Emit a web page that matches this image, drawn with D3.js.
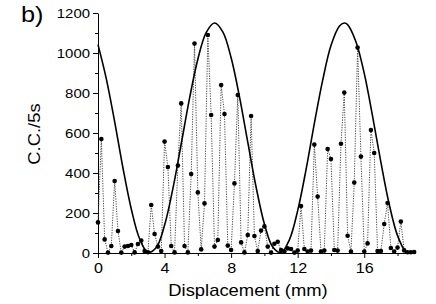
<!DOCTYPE html>
<html>
<head>
<meta charset="utf-8">
<script src="https://d3js.org/d3.v7.min.js"></script>
<style>
  body{ margin:0; background:#fff }
  text{ font-family:"Liberation Sans", Arial, sans-serif; fill:#000 }
</style>
</head>
<body>
<script>
// measured points (displacement in mm, counts per 5 s)
var posMm = [0,0.2,0.4,0.6,0.8,1.0,1.2,1.4,1.6,1.8,2.0,2.2,2.4,2.6,2.8,3.0,
  3.2,3.4,3.6,3.8,4.0,4.2,4.4,4.6,4.8,5.0,5.2,5.4,5.6,5.8,6.0,6.2,6.4,6.6,6.8,
  7.0,7.2,7.4,7.6,7.8,8.0,8.2,8.4,8.6,8.8,9.0,9.2,9.4,9.6,9.8,10.0,10.2,10.4,
  10.6,10.8,11.0,11.2,11.4,11.6,11.8,12.0,12.2,12.4,12.6,12.8,13.0,13.2,13.4,
  13.6,13.8,14.0,14.2,14.4,14.6,14.8,15.0,15.2,15.4,15.6,15.8,16.0,16.2,16.4,
  16.6,16.8,17.0,17.2,17.4,17.6,17.8,18.0,18.2,18.4,18.6,18.8,19.0];
var counts = [153,570,68,2,35,360,110,2,32,35,40,3,45,62,10,4,
  240,95,32,10,557,430,35,3,437,748,35,3,395,1047,303,18,248,1090,690,
  32,65,840,695,37,15,348,790,53,3,90,685,85,10,112,133,32,2,
  46,56,15,7,23,20,2,12,235,20,7,12,542,282,7,
  12,520,470,15,12,546,802,86,7,352,1027,482,7,48,615,
  500,10,10,145,250,25,7,27,157,13,4,4,5];

// fitted curve
var fitMm = [0,0.5,1,1.5,2,2.5,3,3.5,4,4.5,5,5.5,6,6.5,7,7.5,8,8.5,9,9.5,10,
  10.5,11,11.5,12,12.5,13,13.5,14,14.5,14.8,15,15.5,16,16.5,17,17.5,18,18.5,18.7];
var fitCounts = [1042,871,657,425,220,71,3,27,139,322,545,773,969,1102,1150,1106,
  976,782,554,330,145,30,2,66,212,416,647,863,1037,1134,1150,1142,1056,898,684,
  454,244,87,6,0];

var xTicks = [0,4,8,12,16];
var xMinor = [2,6,10,14,18];
var yTicks = [0,200,400,600,800,1000,1200];
var yMinor = [100,300,500,700,900,1100];

var sx = 1.15; // the labels in the picture are a bit wide

var svg = d3.select("body").append("svg")
  .attr("width",436)
  .attr("height",304);

var x = d3.scaleLinear().domain([0,19.05]).range([98,415]);
var y = d3.scaleLinear().domain([0,1200]).range([253,13]);

// minor ticks
svg.append("g")
  .attr("transform","translate(0,253)")
  .call(d3.axisBottom(x).tickValues(xMinor).tickSize(3).tickFormat(""))
  .call(function(g){ g.select(".domain").remove(); });
svg.append("g")
  .attr("transform","translate(98,0)")
  .call(d3.axisLeft(y).tickValues(yMinor).tickSize(3).tickFormat(""))
  .call(function(g){ g.select(".domain").remove(); });

var xAxis = svg.append("g")
  .attr("transform","translate(0,253)")
  .call(d3.axisBottom(x).tickValues(xTicks).tickFormat(d3.format("d"))
    .tickSize(5).tickSizeOuter(0).tickPadding(5));
xAxis.selectAll("text")
  .style("font-size","14px")
  .attr("transform","scale(" + sx + ",1)");

var yAxis = svg.append("g")
  .attr("transform","translate(98,0)")
  .call(d3.axisLeft(y).tickValues(yTicks).tickFormat(d3.format("d"))
    .tickSize(5).tickSizeOuter(0));
yAxis.selectAll("text")
  .style("font-size","13px")
  .attr("x",-8/sx)
  .attr("transform","scale(" + sx + ",1)");

svg.selectAll(".domain, .tick line").attr("stroke","#000");

// dotted line through the points
var pts = posMm.map(function(d,i){ return [d, counts[i]]; });
svg.append("path")
  .datum(pts)
  .attr("fill","none")
  .attr("stroke","#444")
  .attr("stroke-width",1)
  .attr("stroke-dasharray","1.2,1.3")
  .attr("d", d3.line().x(function(d){ return x(d[0]); }).y(function(d){ return y(d[1]); }));

// solid fitted curve
var fit = fitMm.map(function(d,i){ return [d, fitCounts[i]]; });
svg.append("path")
  .datum(fit)
  .attr("fill","none")
  .attr("stroke","#000")
  .attr("stroke-width",1.6)
  .attr("d", d3.line().curve(d3.curveCatmullRom)
    .x(function(d){ return x(d[0]); }).y(function(d){ return y(d[1]); }));

svg.append("g").selectAll("circle")
  .data(pts)
  .enter().append("circle")
  .attr("cx", function(d){ return x(d[0]); })
  .attr("cy", function(d){ return y(d[1]); })
  .attr("r", 2.3)
  .attr("fill", "#000");

// labels
svg.append("text")
  .attr("transform","translate(" + 248 + ",296) scale(" + sx + ",1)")
  .attr("text-anchor","middle")
  .style("font-size","16px")
  .text("Displacement (mm)");

svg.append("text")
  .attr("transform","translate(40,134) rotate(-90) scale(" + sx + ",1)")
  .attr("text-anchor","middle")
  .style("font-size","16px")
  .text("C.C./5s");

svg.append("text")
  .attr("transform","translate(21,22) scale(" + sx + ",1)")
  .style("font-size","22px")
  .text("b)");
</script>
</body>
</html>
